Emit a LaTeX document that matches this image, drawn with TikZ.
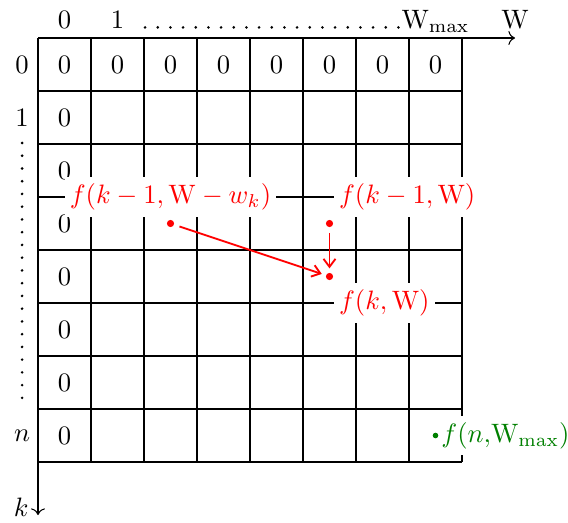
\documentclass[tikz,border=0pt]{standalone}
\usepackage{tikz}
\usetikzlibrary{arrows.meta,positioning,calc}
\definecolor{dpred}{HTML}{FF0000}
\definecolor{dpgreen}{HTML}{008000}

\begin{document}
\begin{tikzpicture}[x=0.7cm,y=0.7cm,
  lbl/.style={fill=white,inner xsep=2pt,inner ysep=2.5pt},
  rdot/.style={circle,fill=dpred,inner sep=0pt,minimum size=2.7pt},
  gdot/.style={circle,fill=dpgreen,inner sep=0pt,minimum size=2.1pt},
  dep/.style={-{Straight Barb[length=3pt,width=4.5pt]},line width=0.7pt,dpred,
              shorten <=2pt,shorten >=1.5pt},
  axis/.style={->}]
  \useasboundingbox (-0.717,0.717) rectangle (10,-9.132);
  \draw[step=1] (0,-8) grid (8,0);
  \coordinate (o) at (0,0);
  \coordinate (wend) at (9,0);
  \coordinate (kend) at (0,-9);
  \draw[axis] (o) -- (wend);
  \draw[axis] (o) -- (kend);
  % headers
  \node[anchor=base] (col0) at (0.5,0.17) {$0$};
  \node[anchor=base] (col1) at (1.5,0.17) {$1$};
  \node[anchor=base] (colmax) at (7.5,0.17) {$\mathrm{W}_{\mathrm{max}}$};
  \node[anchor=base] (wlab) at (9,0.17) {W};
  \node (row0) at (-0.3,-0.5) {$0$};
  \node (row1) at (-0.3,-1.5) {$1$};
  \node (rown) at (-0.3,-7.5) {$n$};
  \node[left] (klab) at (0,-8.86) {$k$};
  \foreach \i in {0,...,20}
    \fill (2.02+0.239*\i,0.2) circle (0.55pt);
  \foreach \i in {0,...,20}
    \fill (-0.3,-1.98-0.2405*\i) circle (0.55pt);
  % base cases
  \foreach \c in {0,...,7}
    \node (top\c) at (\c+0.5,-0.5) {$0$};
  \foreach \r in {1,...,7}
    \node (left\r) at (0.5,-\r-0.5) {$0$};
  % recurrence
  \node[rdot] (fkw) at (2.5,-3.5) {};
  \node[rdot] (fkW) at (5.5,-3.5) {};
  \node[rdot] (fk) at (5.5,-4.5) {};
  \node[lbl,text=dpred] (lkw) at (2.5,-3) {$f(k-1,\mathrm{W}-w_k)$};
  \node[lbl,text=dpred,anchor=west] (lkW) at (5.57,-3) {$f(k-1,\mathrm{W})$};
  \node[lbl,text=dpred,anchor=west] (lk) at (5.57,-5) {$f(k,\mathrm{W})$};
  \draw[dep] (fkw) -- (fk);
  \draw[dep] (fkW) -- (fk);
  % answer
  \node[gdot] (fn) at (7.5,-7.5) {};
  \node[lbl,text=dpgreen,right,inner xsep=0.8pt] (ln) at (fn.east)
    {$f(n,\!\mathrm{W}_{\mathrm{max}})$};
\end{tikzpicture}
\end{document}
